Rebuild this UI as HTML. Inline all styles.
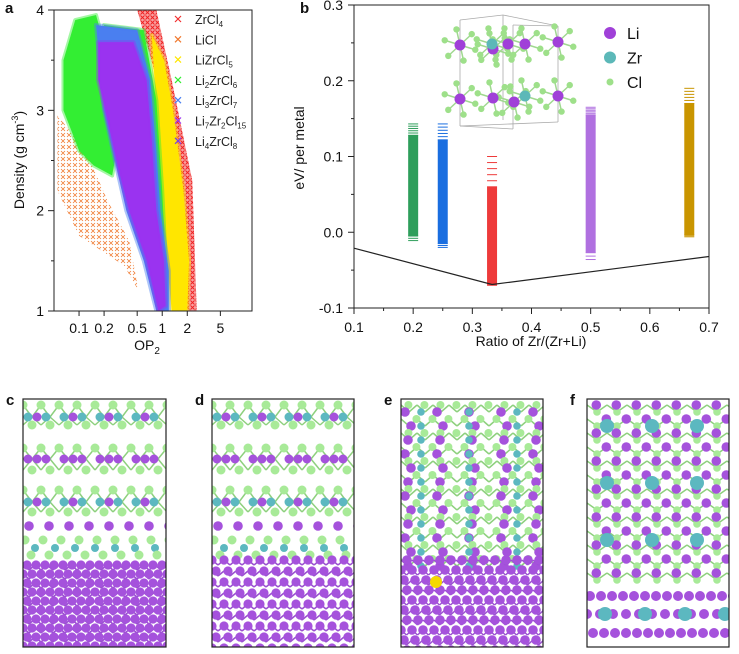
<!DOCTYPE html>
<html><head><meta charset="utf-8"><style>
body{margin:0;background:#fff;}
svg{display:block;font-family:"Liberation Sans",Arial,sans-serif;}
</style></head><body>
<svg id="fig" width="739" height="654" viewBox="0 0 739 654" xmlns="http://www.w3.org/2000/svg">
<defs>
<pattern id="xpat" width="6" height="6" patternUnits="userSpaceOnUse"><path d="M1 1L5 5M5 1L1 5" stroke="#f07a30" stroke-width="0.8"/></pattern>
<pattern id="rpat" width="5" height="5" patternUnits="userSpaceOnUse"><rect width="5" height="5" fill="#f8a0a0"/><path d="M0.5 0.5L4.5 4.5M4.5 0.5L0.5 4.5" stroke="#f02020" stroke-width="0.9"/></pattern>
</defs>
<g id="panelA"></g>
<g id="panelB"></g>
<g id="panelsCF"></g>
</svg>
<script>
const NS="http://www.w3.org/2000/svg";
function mk(parent,tag,attrs,text){const e=document.createElementNS(NS,tag);for(const k in attrs)e.setAttribute(k,attrs[k]);if(text!==undefined)e.textContent=text;parent.appendChild(e);return e;}

// ---------- Panel a data ----------
const aCompounds=["ZrCl4","LiCl","LiZrCl5","Li2ZrCl6","Li3ZrCl7","Li7Zr2Cl15","Li4ZrCl8"];
const aColors=["#f23030","#f07a30","#ffe600","#33ee33","#4a7ff0","#9a33f0","#7a40e8"];
const aOutlineRed=[[0.5,4],[0.85,4],[1.3,3.3],[2.3,2.3],[2.6,1.0],[1.7,1.0],[1.3,2.2],[0.8,3.4]];
const aOutlineYellow=[[0.75,3.75],[1.05,3.5],[1.35,3.0],[1.8,2.2],[2.1,1.5],[2.0,1.0],[1.3,1.0],[1.0,2.0],[0.85,3.0]];
const aOutlineOrange=[[0.055,2.95],[0.12,2.6],[0.22,2.1],[0.4,1.7],[0.52,1.2],[0.35,1.45],[0.1,1.75],[0.055,2.2]];
const aOutlineGreenL=[[0.065,3.5],[0.09,3.9],[0.16,3.95],[0.21,3.6],[0.26,3.2],[0.3,2.7],[0.25,2.35],[0.15,2.45],[0.1,2.6],[0.065,3.0]];
const aOutlineGreenR=[[0.2,3.85],[0.6,3.8],[0.85,3.1],[1.0,2.2],[1.1,1.5],[0.9,1.3],[0.5,2.0],[0.3,2.5]];
const aOutlineBlue=[[0.16,3.85],[0.5,3.8],[0.72,3.3],[0.85,2.6],[0.95,2.0],[1.2,1.4],[1.2,1.0],[0.85,1.0],[0.6,1.5],[0.37,2.0],[0.27,2.5],[0.2,3.0]];
const aOutlinePurple=[[0.17,3.68],[0.45,3.68],[0.65,3.3],[0.75,2.7],[0.85,2.0],[1.05,1.5],[1.1,1.05],[0.9,1.0],[0.65,1.5],[0.4,2.0],[0.3,2.4],[0.22,2.9],[0.17,3.3]];
const aXTicks=[0.1,0.2,0.5,1,2,5];
const aXTickLabels=["0.1","0.2","0.5","1","2","5"];
const aYTicks=[1,2,3,4];
const aYMinor=[1.5,2.5,3.5];

// ---------- Panel b data ----------
const bRatios=[0.2,0.25,1/3,0.5,2/3];
const bColors=["#2e9e5b","#1a6ee0","#ee3a3a","#b070e0","#c99500"];
const bSolidLow=[-0.005,-0.015,-0.068,-0.027,-0.003];
const bSolidHigh=[0.128,0.122,0.06,0.155,0.17];
const bSparseLow=[-0.011,-0.02,-0.07,-0.036,-0.006];
const bSparseHigh=[0.143,0.143,0.1,0.165,0.19];
const bHullX=[0.1,1/3,0.7];
const bHullY=[-0.021,-0.069,-0.032];
const bXTicks=[0.1,0.2,0.3,0.4,0.5,0.6,0.7];
const bYTicks=[-0.1,0,0.1,0.2,0.3];
const bYTickLabels=["-0.1","0.0","0.1","0.2","0.3"];

// ===== Panel a =====
(function(){
const g=document.getElementById('panelA');
const L=54,R=252,T=10,B=311;
const lx0=Math.log10(0.05),lx1=Math.log10(12);
const X=v=>L+(Math.log10(v)-lx0)/(lx1-lx0)*(R-L);
const Y=v=>B-(v-1)/3*(B-T);
const clip=mk(g,'clipPath',{id:'clipA'});mk(clip,'rect',{x:L,y:T,width:R-L,height:B-T});
const cg=mk(g,'g',{'clip-path':'url(#clipA)'});
function poly(pts,fill,name,op,sw){const p=mk(cg,'polygon',{points:pts.map(q=>X(q[0])+','+Y(q[1])).join(' '),fill:fill,'fill-opacity':op||1,stroke:fill.startsWith('url')?'none':fill,'stroke-width':sw||4,'stroke-opacity':0.45,'stroke-linejoin':'round'});
}
poly(aOutlineRed,'url(#rpat)','zrcl4-cloud');
poly(aOutlineYellow,aColors[2],'lizrcl5-cloud');
poly(aOutlineOrange,'url(#xpat)','licl-cloud');
poly(aOutlineGreenR,aColors[3],'li2zrcl6-cloud-right');
poly(aOutlineGreenL,aColors[3],'li2zrcl6-cloud');
poly(aOutlineBlue,aColors[4],'li3zrcl7-cloud');
poly(aOutlinePurple,aColors[5],'li7zr2cl15-cloud');
mk(g,'rect',{x:L,y:T,width:R-L,height:B-T,fill:'none',stroke:'#222','stroke-width':1,});
aXTicks.forEach((t,i)=>{mk(g,'line',{x1:X(t),x2:X(t),y1:B,y2:B+5,stroke:'#222'});
const tx=mk(g,'text',{x:X(t),y:B+22,'text-anchor':'middle','font-size':14,fill:'#111'},aXTickLabels[i]);
});
aYTicks.forEach(t=>{mk(g,'line',{x1:L-6,x2:L,y1:Y(t),y2:Y(t),stroke:'#222'});
const tx=mk(g,'text',{x:L-10,y:Y(t)+5,'text-anchor':'end','font-size':14,fill:'#111'},String(t));
});
aYMinor.forEach(t=>mk(g,'line',{x1:L-3,x2:L,y1:Y(t),y2:Y(t),stroke:'#222'}));
const xt=mk(g,'text',{x:147,y:350,'text-anchor':'middle','font-size':14,fill:'#111',});
xt.innerHTML='OP<tspan font-size="10" dy="4">2</tspan>';
const yt=mk(g,'text',{x:0,y:0,'text-anchor':'middle','font-size':14,fill:'#111',transform:'translate(24,160) rotate(-90)',});
yt.innerHTML='Density (g cm<tspan font-size="9" dy="-6">-3</tspan><tspan dy="6">)</tspan>';
mk(g,'text',{x:5,y:13,'font-size':15,'font-weight':'bold',fill:'#111',},'a');
const labels=['ZrCl<tspan font-size="8" dy="3">4</tspan>','LiCl','LiZrCl<tspan font-size="8" dy="3">5</tspan>','Li<tspan font-size="8" dy="3">2</tspan><tspan dy="-3">ZrCl</tspan><tspan font-size="8" dy="3">6</tspan>','Li<tspan font-size="8" dy="3">3</tspan><tspan dy="-3">ZrCl</tspan><tspan font-size="8" dy="3">7</tspan>','Li<tspan font-size="8" dy="3">7</tspan><tspan dy="-3">Zr</tspan><tspan font-size="8" dy="3">2</tspan><tspan dy="-3">Cl</tspan><tspan font-size="8" dy="3">15</tspan>','Li<tspan font-size="8" dy="3">4</tspan><tspan dy="-3">ZrCl</tspan><tspan font-size="8" dy="3">8</tspan>'];
aCompounds.forEach((c,i)=>{const y=19+i*20.3;
const le=mk(g,'g',{});
mk(le,'path',{d:`M${175} ${y-3}l6 6M${181} ${y-3}l-6 6`,stroke:aColors[i],'stroke-width':1.2});
const t=mk(le,'text',{x:195,y:y+5,'font-size':12.5,fill:'#222'});t.innerHTML=labels[i];});
})();

// ===== Panel b =====
(function(){
const g=document.getElementById('panelB');
const L=354,R=709,T=5,B=308;
const X=v=>L+(v-0.1)/0.6*(R-L);
const Y=v=>B-(v+0.1)/0.4*(B-T);
const ins=mk(g,'g',{});
[[460,20,503,15],[460,126,513,129],[503,15,503,120],[513,129,513,25],[460,20,460,126],[558,26,558,122],[503,15,558,26],[513,25,558,26],[460,126,558,122]].forEach(s=>mk(ins,'line',{x1:s[0],y1:s[1],x2:s[2],y2:s[3],stroke:'#aaa','stroke-width':0.8}));
const li=[[460,45],[493,49],[508,44],[525,44],[558,42],[460,99],[493,98],[514,102],[558,96]];
const zr=[[492,44],[525,96]];
li.concat(zr).forEach(p=>{for(let k=0;k<6;k++){const a=k*Math.PI/3+0.3;mk(ins,'line',{x1:p[0],y1:p[1],x2:p[0]+16*Math.cos(a),y2:p[1]+16*Math.sin(a),stroke:'#a0d890','stroke-width':1.5});mk(ins,'circle',{cx:p[0]+16*Math.cos(a),cy:p[1]+16*Math.sin(a),r:3.2,fill:'#9ee08a'});}});
li.forEach(p=>mk(ins,'circle',{cx:p[0],cy:p[1],r:5.5,fill:'#a040d8'}));
zr.forEach(p=>mk(ins,'circle',{cx:p[0],cy:p[1],r:5.5,fill:'#5cb8b8'}));
[['Li','#a040d8',6],['Zr','#5cb8b8',6],['Cl','#9ee08a',3.5]].forEach((e,i)=>{const y=33+i*24.5;
const le=mk(g,'g',{});
mk(le,'circle',{cx:610,cy:y,r:e[2],fill:e[1]});mk(le,'text',{x:627,y:y+6,'font-size':16,fill:'#111'},e[0]);});
bRatios.forEach((r,i)=>{const x=X(r)-5;
const s=mk(g,'rect',{x:x,y:Y(bSolidHigh[i]),width:10,height:Y(bSolidLow[i])-Y(bSolidHigh[i]),fill:bColors[i]});

const n=5;for(let k=0;k<=n;k++){const v=bSolidHigh[i]+(bSparseHigh[i]-bSolidHigh[i])*k/n;mk(g,'line',{x1:x,x2:x+10,y1:Y(v),y2:Y(v),stroke:bColors[i],'stroke-width':1,});}
for(let k=0;k<=2;k++){const v=bSolidLow[i]+(bSparseLow[i]-bSolidLow[i])*k/2;mk(g,'line',{x1:x,x2:x+10,y1:Y(v),y2:Y(v),stroke:bColors[i],'stroke-width':1});}
});
const hull=mk(g,'polyline',{points:bHullX.map((x,i)=>X(x)+','+Y(bHullY[i])).join(' '),fill:'none',stroke:'#222','stroke-width':1.2});

mk(g,'rect',{x:L,y:T,width:R-L,height:B-T,fill:'none',stroke:'#222','stroke-width':1,});
bXTicks.forEach((t,i)=>{mk(g,'line',{x1:X(t),x2:X(t),y1:B,y2:B+6,stroke:'#222'});if(i<bXTicks.length-1)mk(g,'line',{x1:X(t+0.05),x2:X(t+0.05),y1:B,y2:B+3,stroke:'#222'});
const tx=mk(g,'text',{x:X(t),y:B+24,'text-anchor':'middle','font-size':14,fill:'#111'},t.toFixed(1));});
bYTicks.forEach((t,i)=>{mk(g,'line',{x1:L-6,x2:L,y1:Y(t),y2:Y(t),stroke:'#222'});if(i<4)mk(g,'line',{x1:L-3,x2:L,y1:Y(t+0.05),y2:Y(t+0.05),stroke:'#222'});
const tx=mk(g,'text',{x:L-11,y:Y(t)+5,'text-anchor':'end','font-size':14,fill:'#111'},bYTickLabels[i]);});
mk(g,'text',{x:531,y:346,'text-anchor':'middle','font-size':14,fill:'#111',},'Ratio of Zr/(Zr+Li)');
mk(g,'text',{x:0,y:0,'text-anchor':'middle','font-size':14,fill:'#111',transform:'translate(304,148) rotate(-90)',},'eV/ per metal');
mk(g,'text',{x:300,y:13,'font-size':15,'font-weight':'bold',fill:'#111',},'b');
})();

// ===== Panels c-f (structures) =====
(function(){
const g=document.getElementById('panelsCF');
const P='#a552dc',G='#a8ea98',Z='#5cb8c0';
const boxes=[['c',23,166],['d',212,354],['e',401,543],['f',587,729]];
boxes.forEach((b,bi)=>{const x0=b[1],x1=b[2],y0=399,y1=647;
const pg=mk(g,'g',{});
const cp=mk(pg,'clipPath',{id:'cp'+b[0]});mk(cp,'rect',{x:x0,y:y0,width:x1-x0,height:y1-y0});
const cg=mk(pg,'g',{'clip-path':'url(#cp'+b[0]+')'});
function row(y,dx,off,col,r){for(let x=x0+off;x<x1+10;x+=dx)mk(cg,'circle',{cx:x,cy:y,r:r,fill:col});}
function bonds(yA,yB,dx,col){for(let x=x0;x<x1+10;x+=dx){mk(cg,'line',{x1:x,y1:yA,x2:x+dx/2,y2:yB,stroke:col,'stroke-width':1.5});mk(cg,'line',{x1:x+dx/2,y1:yB,x2:x+dx,y2:yA,stroke:col,'stroke-width':1.5});}}
let metalTop;
if(bi<2){
 [[405,425,417],[448,470,459],[490,512,502]].forEach((l,k)=>{bonds(l[0],l[2],18,'#8ed07e');bonds(l[1],l[2],18,'#8ed07e');row(l[0],18,0,G,4.5);row(l[1],18,9,G,4.5);row(l[2],18,5,k%2?P:Z,4.5);row(l[2],36,14,P,4.5);});
 row(526,20,6,P,4.8);row(540,18,2,G,4.5);row(548,20,12,Z,4);row(555,18,8,G,4.5);
 metalTop=bi==0?565:560;
 for(let y=metalTop;y<y1+6;y+=bi==0?9:11){bonds(y,y+5,12,'#9a50d0');row(y,bi==0?9:12,(y%2)*4,P,4.6);}
}else if(bi==2){
 for(let y=405;y<560;y+=14){bonds(y,y+7,16,'#8ed07e');row(y,16,(y/14%2)*8,G,4);row(y+7,32,4+(y%3)*3,P,4.8);row(y+7,48,20,Z,3.8);}
 metalTop=560;
 for(let y=metalTop;y<y1+6;y+=10){bonds(y,y+5,11,'#9a50d0');row(y,11,(y%3)*3,P,4.8);}
 mk(cg,'circle',{cx:436,cy:582,r:6,fill:'#f5d800',});
}else{
 for(let y=405;y<585;y+=14){bonds(y,y+7,20,'#8ed07e');row(y+7,20,10,G,3.8);row(y,20,(y/14%2)*10,P,4.8);}
 [[426,Z],[483,Z],[540,Z]].forEach(r=>row(r[0],45,20,r[1],7));
 row(596,11,3,P,5);row(614,13,0,P,5);row(614,40,18,Z,7);row(633,11,6,P,5);
}
mk(pg,'rect',{x:x0,y:y0,width:x1-x0,height:y1-y0,fill:'none',stroke:'#222','stroke-width':1.2});
mk(pg,'text',{x:x0-17,y:y0+6,'font-size':15,'font-weight':'bold',fill:'#111'},b[0]);
});
})();
</script>
</body></html>
